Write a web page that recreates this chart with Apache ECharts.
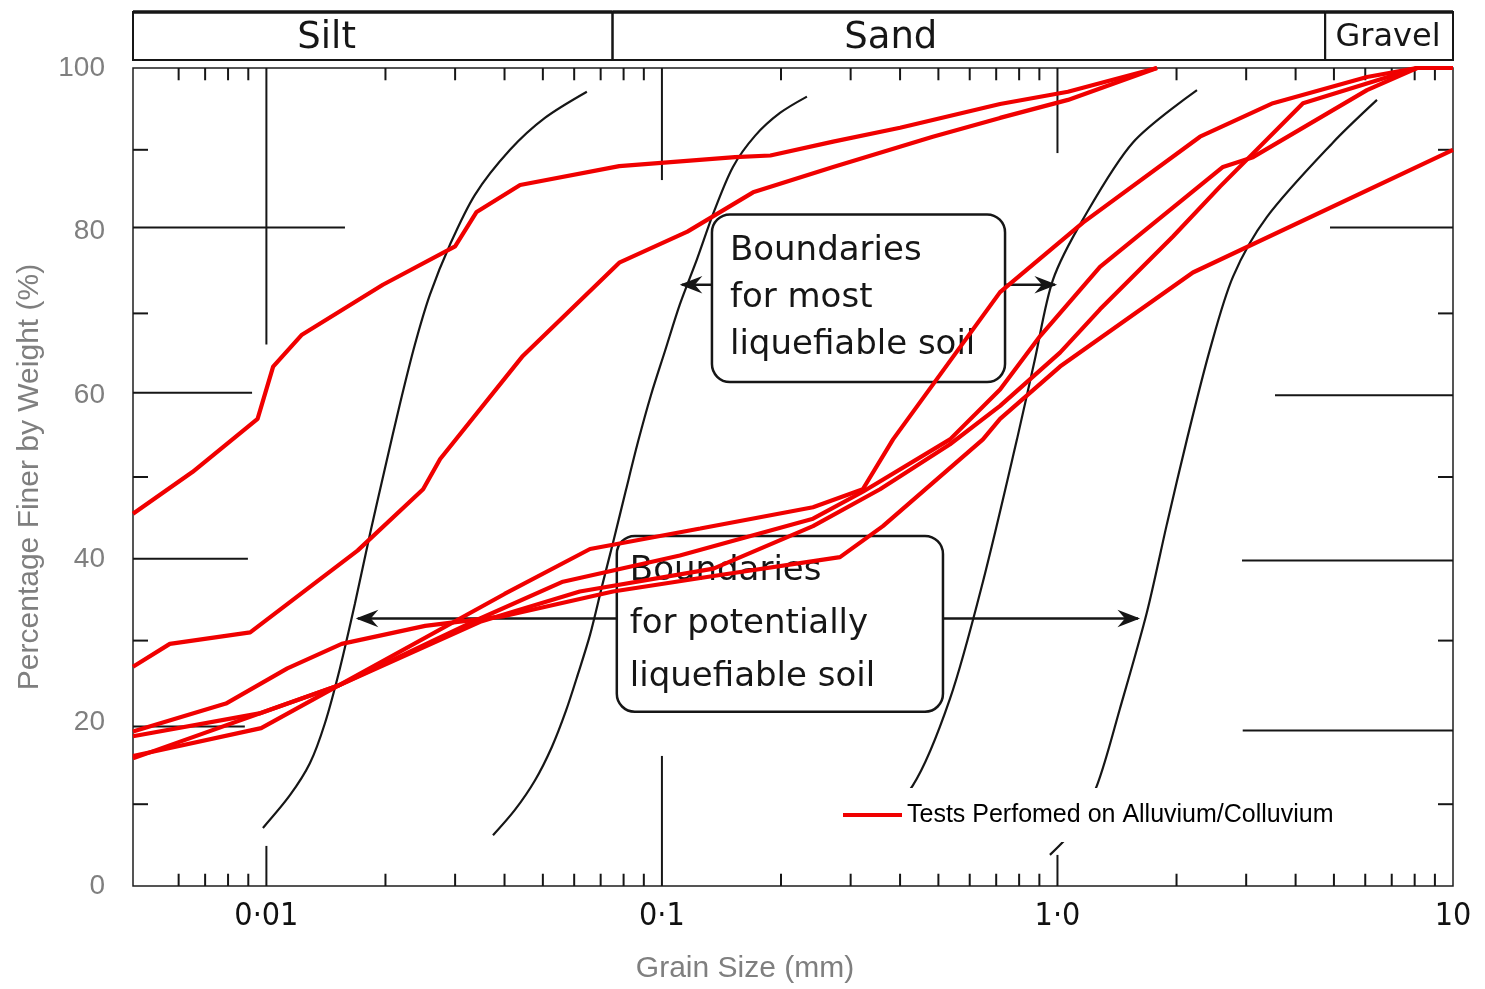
<!DOCTYPE html>
<html><head><meta charset="utf-8">
<script src="https://cdn.jsdelivr.net/npm/echarts@6/dist/echarts.min.js"></script>
<style>html,body{margin:0;padding:0;background:#fff;}#c{width:1485px;height:989px;}</style>
</head><body><div id="c"></div>
<script>
// ---------- axis / tick data ----------
const X_MIN = 0.0046, X_MAX = 10;
const xTickValues = [0.01, 0.1, 1, 10];
const xTickLabels = ['0·01', '0·1', '1·0', '10'];
const yTickValues = [0, 20, 40, 60, 80, 100];
const minorTickValues = [];
[-3, -2, -1, 0].forEach(function (k) { for (let m = 2; m <= 9; m++) { const v = m * Math.pow(10, k); if (v > 0.0055 && v < X_MAX) minorTickValues.push(v); } });

const SERIES_NAME = 'Tests Perfomed on Alluvium/Colluvium';

// ---------- red test gradations [grain size mm, % finer] ----------
const testA = [[0.0046,45.5],[0.0065,50.6],[0.0095,57.1],[0.0104,63.5],[0.0123,67.4],[0.0197,73.5],[0.030,78.2],[0.034,82.4],[0.0438,85.7],[0.078,88.0],[0.153,89.1],[0.188,89.3],[0.271,91.0],[0.40,92.7],[0.716,95.6],[1.063,97.1],[1.785,100]];
const testB = [[0.0046,26.8],[0.0057,29.6],[0.0091,31.0],[0.017,41.0],[0.0249,48.5],[0.0275,52.2],[0.0445,64.8],[0.078,76.2],[0.116,80.0],[0.17,84.8],[0.271,87.9],[0.484,91.6],[0.716,93.9],[1.063,96.1],[1.785,100]];
const testC = [[0.0046,18.9],[0.0079,22.3],[0.0113,26.6],[0.0155,29.6],[0.0252,31.8],[0.040,33.0],[0.0752,36.0],[0.135,37.9],[0.282,40.2],[0.362,44.0],[0.648,54.6],[0.716,57.1],[1.015,63.5],[2.20,75.0],[10,90.0]];
const testD = [[0.0046,18.3],[0.0096,21.1],[0.0152,24.5],[0.0347,32.7],[0.0562,37.2],[0.111,40.4],[0.241,44.9],[0.322,48.2],[0.535,54.6],[0.716,60.7],[0.903,67.2],[1.281,75.7],[2.621,87.9],[3.121,89.1],[6.06,97.3],[8.11,100]];
const testE = [[0.0046,15.6],[0.0152,24.5],[0.0347,32.3],[0.062,36.0],[0.135,38.8],[0.241,44.0],[0.356,48.5],[0.535,54.0],[0.716,58.7],[1.015,65.2],[1.281,70.5],[1.959,79.4],[2.576,85.5],[4.176,95.7],[8.11,100]];
const testF = [[0.0046,15.9],[0.0097,19.3],[0.0152,24.5],[0.040,35.7],[0.0658,41.2],[0.125,43.7],[0.241,46.3],[0.322,48.5],[0.384,54.6],[0.716,72.6],[1.160,81.1],[2.293,91.6],[3.506,95.7],[6.06,98.9],[8.11,100],[10,100]];
const testCurves = [testA, testB, testC, testD, testE, testF];

// ---------- black boundary curves [mm, % finer] ----------
const boundMostFine = [[0.0098,7.1],[0.01147,11.1],[0.01288,15.0],[0.01406,19.9],[0.01534,26.6],[0.01674,34.5],[0.01827,43.0],[0.01993,51.0],[0.02175,58.9],[0.02374,66.2],[0.02591,72.3],[0.02911,78.4],[0.03367,84.5],[0.0413,90.0],[0.0506,93.9],[0.0646,97.1]];
const boundLiqFine = [[0.0374,6.2],[0.04249,9.3],[0.04774,12.9],[0.05269,17.0],[0.05718,21.4],[0.06133,25.9],[0.0658,30.7],[0.07051,36.6],[0.0756,42.4],[0.0811,48.4],[0.0870,54.3],[0.0938,60.0],[0.1018,65.4],[0.111,71.1],[0.1226,76.6],[0.1353,82.4],[0.1512,87.9],[0.1719,91.7],[0.1988,94.5],[0.2326,96.5]];
const boundLiqCoarse = [[0.317,5.5],[0.431,12.3],[0.535,22.9],[0.648,37.2],[0.790,54.6],[0.877,64.4],[0.974,74.1],[1.160,81.5],[1.552,90.9],[2.253,97.3]];
const boundMostCoarse = [[0.957,3.8],[1.107,7.1],[1.259,12.3],[1.439,21.7],[1.684,33.5],[1.892,44.3],[2.125,54.6],[2.430,65.6],[2.779,74.5],[3.386,81.8],[4.974,90.9],[6.424,96.1]];
const boundaryCurves = [boundMostFine, boundLiqFine, boundLiqCoarse, boundMostCoarse];

// ---------- soil classes (header band) ----------
const soilNames = ['Silt', 'Sand', 'Gravel'];
const soilBounds = [0.0046, 0.075, 4.75, 10];
const soilLabelAt = [0.0142, 0.379, 6.85];

// ---------- scanned chart marks [x1, y1, x2, y2] ----------
const scanSegments = [
  [0.0046,80.5,0.0158,80.5],[4.887,80.5,10,80.5],
  [0.0046,60.3,0.0092,60.3],[3.548,60.0,10,60.0],
  [0.0046,40.0,0.00898,40.0],[2.928,39.8,10,39.8],
  [0.0046,19.5,0.00882,19.5],[2.94,19.0,10,19.0],
  [0.0046,90,0.00502,90],[0.0046,70,0.00502,70],[0.0046,50,0.00502,50],[0.0046,30,0.00502,30],[0.0046,10,0.00502,10],
  [9.165,90,10,90],[9.165,70,10,70],[9.165,50,10,50],[9.165,30,10,30],[9.165,10,10,10],
  [0.01,100,0.01,66.2],[0.01,0,0.01,4.9],
  [0.1,100,0.1,86.3],[0.1,0,0.1,15.9],
  [1,100,1,89.6],[1,0,1,3.8]
];
minorTickValues.forEach(function (v) { scanSegments.push([v, 100, v, 98.5]); scanSegments.push([v, 0, v, 1.5]); });

// ---------- annotations ----------
const noteBoxes = [
  { x1: 0.1338, x2: 0.737, y1: 82.1, y2: 61.6, text: 'Boundaries\nfor most\nliquefiable soil', lh: 47, pad: 18 },
  { x1: 0.0769, x2: 0.5135, y1: 42.8, y2: 21.3, text: 'Boundaries\nfor potentially\nliquefiable soil', lh: 53, pad: 13 }
];
const noteArrows = [
  [0.1338, 0.1123, 73.5], [0.737, 0.9855, 73.5],
  [0.0769, 0.01703, 32.7], [0.5135, 1.598, 32.7]
];

const INK = '#161616';
const DRAFT_FONT = '"DejaVu Sans", "Noto Sans", sans-serif';
const GREY = '#7f7f7f';
const RED = '#f00000';

const chart = echarts.init(document.getElementById('c'), null, { renderer: 'canvas' });

const series = [];
// scanned marks
series.push({
  type: 'custom', name: 'scan', xAxisIndex: 0, yAxisIndex: 0, silent: true, z: 1, clip: false,
  data: scanSegments, encode: { x: [0, 2], y: [1, 3] },
  renderItem: function (params, api) {
    const p1 = api.coord([api.value(0), api.value(1)]);
    const p2 = api.coord([api.value(2), api.value(3)]);
    return { type: 'line', shape: { x1: p1[0], y1: p1[1], x2: p2[0], y2: p2[1] }, style: { stroke: INK, lineWidth: 2 } };
  }
});
// boxes
series.push({
  type: 'custom', name: 'boxes', silent: true, z: 1,
  data: noteBoxes.map(function (b) { return [b.x1, b.y1, b.x2, b.y2]; }), encode: { x: [0, 2], y: [1, 3] },
  renderItem: function (params, api) {
    const b = noteBoxes[params.dataIndex];
    const p1 = api.coord([b.x1, b.y1]);
    const p2 = api.coord([b.x2, b.y2]);
    return { type: 'group', children: [
      { type: 'rect', shape: { x: p1[0], y: p1[1], width: p2[0] - p1[0], height: p2[1] - p1[1], r: 18 }, style: { fill: 'rgba(255,255,255,0)', stroke: INK, lineWidth: 2.5 } },
      { type: 'text', x: p1[0] + b.pad, y: (p1[1] + p2[1]) / 2, style: { text: b.text, fill: INK, font: '34px ' + DRAFT_FONT, lineHeight: b.lh, align: 'left', verticalAlign: 'middle' } }
    ] };
  }
});
// arrows
series.push({
  type: 'custom', name: 'arrows', silent: true, z: 1,
  data: noteArrows, encode: { x: [0, 1], y: [2] },
  renderItem: function (params, api) {
    const a = api.coord([api.value(0), api.value(2)]);
    const t = api.coord([api.value(1), api.value(2)]);
    const dir = t[0] > a[0] ? 1 : -1;
    return { type: 'group', children: [
      { type: 'line', shape: { x1: a[0], y1: a[1], x2: t[0], y2: t[1] }, style: { stroke: INK, lineWidth: 2.5 } },
      { type: 'polygon', shape: { points: [[t[0], t[1]], [t[0] - dir * 18, t[1] - 7], [t[0] - dir * 12, t[1]], [t[0] - dir * 18, t[1] + 7]] }, style: { fill: INK, stroke: INK, lineWidth: 1.5 } }
    ] };
  }
});
// header band (soil classes)
series.push({
  type: 'custom', name: 'header', xAxisIndex: 1, yAxisIndex: 1, silent: true, clip: false,
  data: soilNames.map(function (n, i) { return [soilBounds[i], soilBounds[i + 1]]; }), encode: { x: [0, 1] },
  renderItem: function (params, api) {
    const i = params.dataIndex;
    const a = api.coord([soilBounds[i], 0]);
    const b = api.coord([soilBounds[i + 1], 1]);
    const t = api.coord([soilLabelAt[i], 0.5]);
    return { type: 'group', children: [
      { type: 'rect', shape: { x: a[0], y: b[1], width: b[0] - a[0], height: a[1] - b[1] }, style: { fill: 'rgba(255,255,255,0)', stroke: INK, lineWidth: 2 } },
      { type: 'line', shape: { x1: a[0], y1: b[1], x2: b[0], y2: b[1] }, style: { stroke: INK, lineWidth: 3.5 } },
      { type: 'text', x: t[0], y: t[1] + 2, style: { text: soilNames[i], fill: INK, font: (i === 2 ? '32px ' : '37px ') + DRAFT_FONT, align: 'center', verticalAlign: 'middle' } }
    ] };
  }
});
// boundary curves
boundaryCurves.forEach(function (d, i) {
  series.push({ type: 'line', name: 'boundary' + i, data: d, smooth: 0.3, symbol: 'none', silent: true, z: 2,
    lineStyle: { color: INK, width: 2.2 } });
});
// red test curves
testCurves.forEach(function (d) {
  series.push({ type: 'line', name: SERIES_NAME, data: d, symbol: 'none', showSymbol: false, z: 3,
    lineStyle: { color: RED, width: 4.2 }, itemStyle: { color: RED } });
});

chart.setOption({
  animation: false,
  backgroundColor: '#fff',
  grid: [
    { left: 133, right: 32, top: 68, bottom: 101, show: true, borderColor: '#1e1e1e', borderWidth: 1.5, backgroundColor: 'rgba(0,0,0,0)' },
    { left: 133, right: 32, top: 12, height: 48, show: false }
  ],
  xAxis: [
    { type: 'log', logBase: 10, min: X_MIN, max: X_MAX, gridIndex: 0,
      name: 'Grain Size (mm)', nameLocation: 'middle', nameGap: 68,
      nameTextStyle: { color: GREY, fontSize: 30, fontFamily: '"Liberation Sans", Arial, sans-serif', padding: [0, 96, 0, 0] },
      axisLine: { show: false }, axisTick: { show: false }, splitLine: { show: false }, minorTick: { show: false }, minorSplitLine: { show: false },
      axisLabel: { color: '#111', fontSize: 32, fontFamily: '"DejaVu Sans Condensed", "Liberation Sans Narrow", "DejaVu Sans", sans-serif', margin: 15,
        showMinLabel: true, showMaxLabel: true,
        formatter: function (v) {
          const l = Math.log10(v); const r = Math.round(l);
          if (Math.abs(l - r) > 1e-6) return '';
          const idx = xTickValues.findIndex(function (t) { return Math.abs(Math.log10(t) - r) < 1e-6; });
          return idx >= 0 ? xTickLabels[idx] : '';
        } } },
    { type: 'log', logBase: 10, min: X_MIN, max: X_MAX, gridIndex: 1, show: false }
  ],
  yAxis: [
    { type: 'value', min: 0, max: 100, interval: 20, gridIndex: 0,
      name: 'Percentage Finer by Weight (%)', nameLocation: 'middle', nameGap: 88,
      nameTextStyle: { color: GREY, fontSize: 30, fontFamily: '"Liberation Sans", Arial, sans-serif' },
      axisLine: { show: false }, axisTick: { show: false }, splitLine: { show: false },
      axisLabel: { color: GREY, fontSize: 28, fontFamily: '"Liberation Sans", Arial, sans-serif', margin: 28,
        formatter: function (v) { return yTickValues.indexOf(v) >= 0 ? String(v) : ''; } } },
    { type: 'value', min: 0, max: 1, gridIndex: 1, show: false }
  ],
  legend: {
    data: [{ name: SERIES_NAME, icon: 'rect', itemStyle: { color: RED } }],
    left: 843, top: 788, itemWidth: 59, itemHeight: 4, padding: [12, 10, 12, 0],
    backgroundColor: '#fff', selectedMode: false,
    textStyle: { color: '#000', fontSize: 25, fontFamily: '"Liberation Sans", Arial, sans-serif', lineHeight: 30 }
  },
  series: series
});
</script></body></html>
